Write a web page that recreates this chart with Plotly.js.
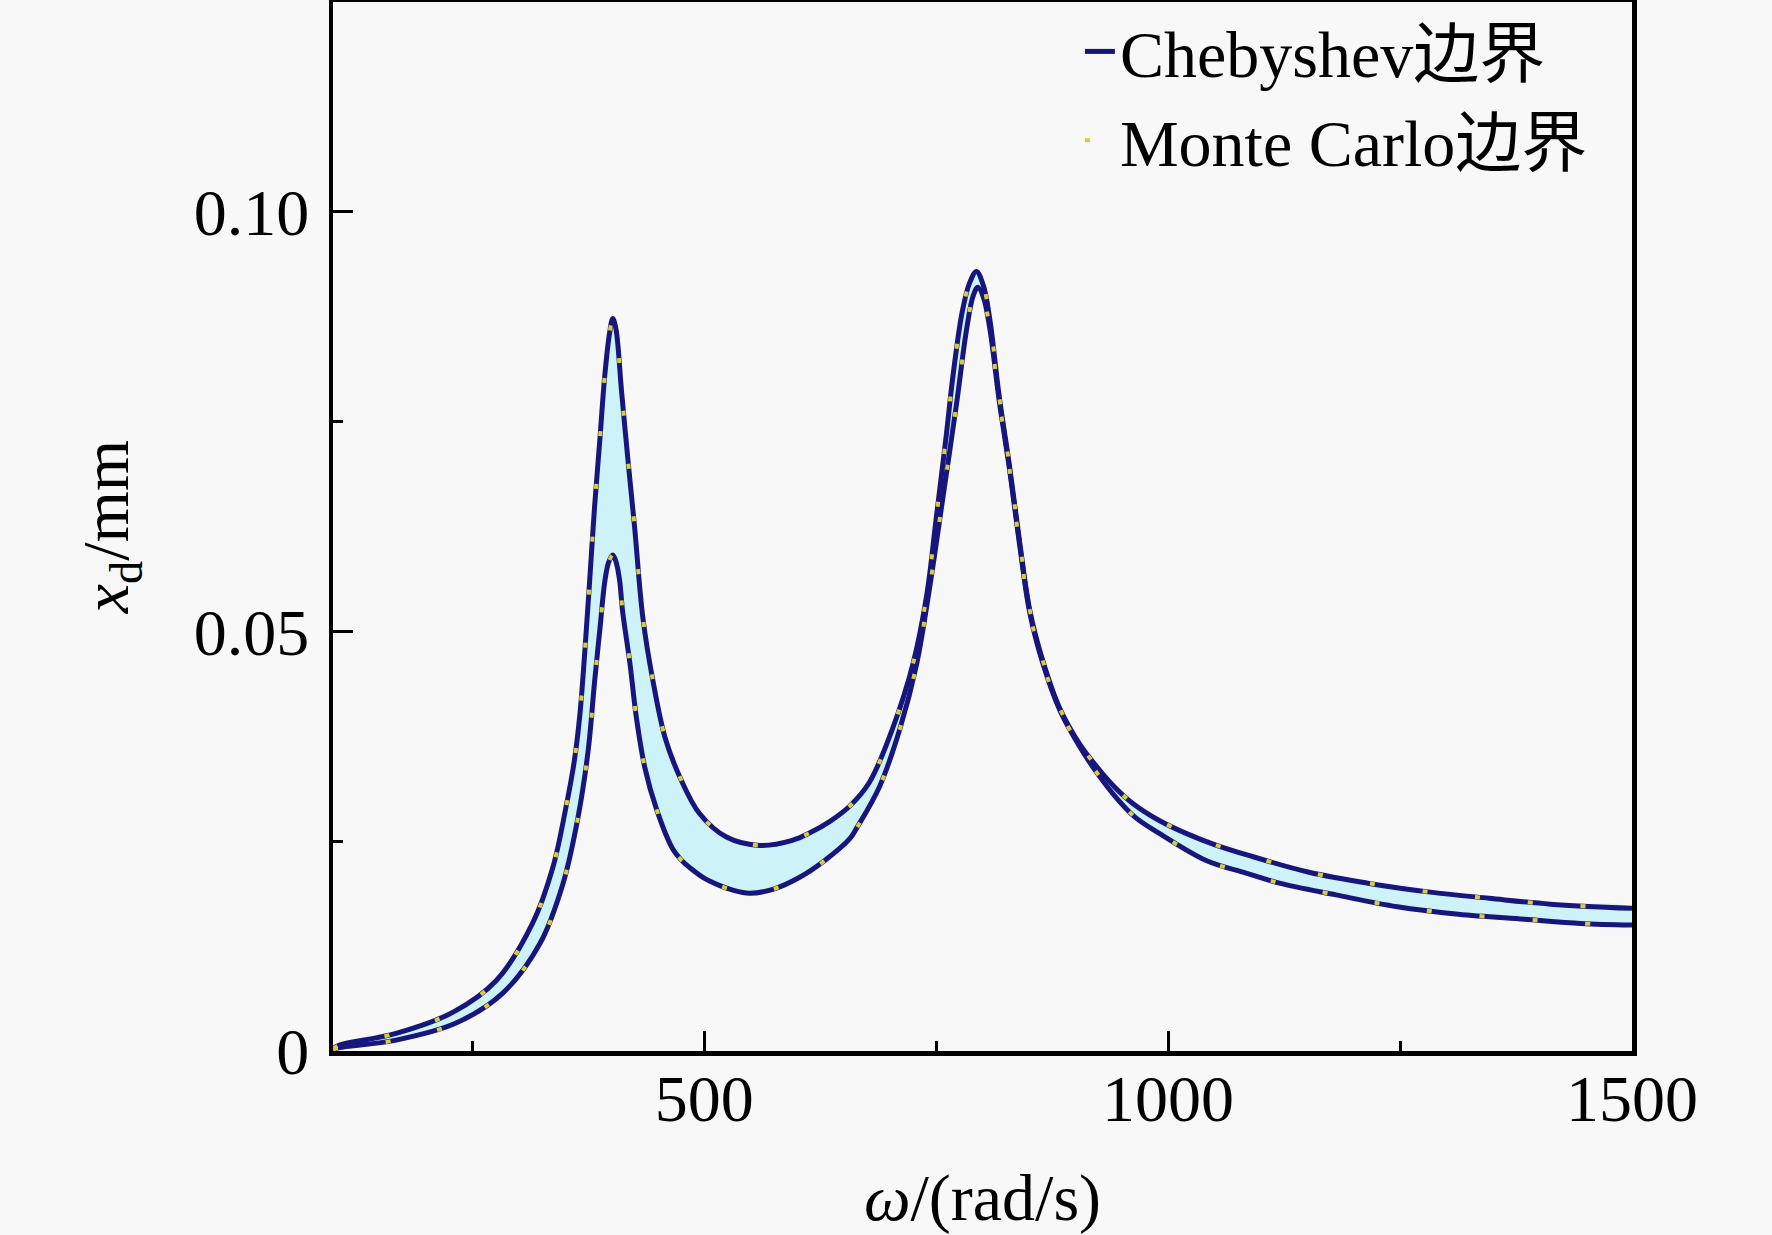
<!DOCTYPE html>
<html>
<head>
<meta charset="utf-8">
<script src="https://cdn.plot.ly/plotly-3.0.1.min.js"></script>
<style>
    html, body { margin: 0; padding: 0; background: #f8f8f8; }
    #plot { width: 1772px; height: 1235px; }
</style>
</head>
<body>
<div id="plot"></div>
<script>
// Upper bound of x_d (mm) against ω (rad/s).
const upperOmega = [
    100, 107, 168, 229, 276, 315, 337, 351, 360, 366, 371, 376, 382, 387.5, 393, 398, 401.5, 405, 411, 418,
    425, 434, 445, 458, 474, 495, 524, 560, 595, 614, 636, 657, 678, 703, 725, 740, 750, 761, 768, 778,
    786, 793.5, 801, 808, 818, 829, 840, 851, 865, 883, 904, 923, 942, 962, 990, 1020, 1050, 1087, 1152, 1215,
    1285, 1346, 1412, 1500,
];
const upperXd = [
    0.0003, 0.0007, 0.0021, 0.0046, 0.0084, 0.0152, 0.0219, 0.0290, 0.0345, 0.0400, 0.0470, 0.0550, 0.0650, 0.0727, 0.0806, 0.0855, 0.0873, 0.0860, 0.0786, 0.0703,
    0.0625, 0.0516, 0.0440, 0.0373, 0.0326, 0.0283, 0.0255, 0.0245, 0.0251, 0.0260, 0.0274, 0.0292, 0.0320, 0.0384, 0.0461, 0.0544, 0.0634, 0.0734, 0.0803, 0.0880,
    0.0915, 0.0929, 0.0912, 0.0871, 0.0780, 0.0698, 0.0607, 0.0525, 0.0465, 0.0409, 0.0367, 0.0339, 0.0315, 0.0295, 0.0275, 0.0259, 0.0246, 0.0233, 0.0213, 0.0200,
    0.0189, 0.0182, 0.0175, 0.0170,
];

// Lower bound.
const lowerOmega = [
    100, 107, 168, 232, 283, 323, 348, 364, 375, 382, 387.5, 393, 397, 401.5, 405, 409, 412, 420, 427, 436,
    449, 466, 475, 485, 500, 515, 530, 549, 575, 603, 630, 657, 664, 689, 711, 729, 743, 757, 772, 783,
    790, 795, 801, 808, 818, 829, 840, 851, 865, 883, 904, 923, 944, 965, 991, 1041, 1084, 1120, 1181, 1247,
    1313, 1384, 1445, 1500,
];
const lowerXd = [
    0.0002, 0.0004, 0.0013, 0.0033, 0.0069, 0.0128, 0.0200, 0.0278, 0.0358, 0.0441, 0.0501, 0.0560, 0.0582, 0.0591, 0.0583, 0.0560, 0.0525, 0.0462, 0.0397, 0.0338,
    0.0287, 0.0241, 0.0228, 0.0218, 0.0206, 0.0198, 0.0192, 0.0188, 0.0193, 0.0207, 0.0227, 0.0253, 0.0265, 0.0315, 0.0384, 0.0461, 0.0552, 0.0657, 0.0771, 0.0861,
    0.0900, 0.0910, 0.0898, 0.0860, 0.0775, 0.0694, 0.0603, 0.0522, 0.0462, 0.0407, 0.0364, 0.0332, 0.0302, 0.0278, 0.0259, 0.0227, 0.0212, 0.0200, 0.0186, 0.0172,
    0.0163, 0.0157, 0.0152, 0.0150,
];

// The Monte Carlo bounds coincide with the Chebyshev ones in the figure.
const mcUpperOmega = upperOmega;
const mcUpperXd = upperXd;
const mcLowerOmega = lowerOmega;
const mcLowerXd = lowerXd;

const seriesNames = [ 'Chebyshev边界', 'Monte Carlo边界' ];
const yTickVals = [ 0, 0.05, 0.10 ];
const yTickText = [ '0', '0.05', '0.10' ];

const serif = '"Liberation Serif", "Times New Roman", "Noto Sans CJK SC", serif';
const navy = '#16167c';
const mcColor = '#dccc3a';
const spline = { shape: 'spline', smoothing: 1 };

const data = [
    // Band between the bounds.
    {
        x: upperOmega.concat([ ...lowerOmega ].reverse()),
        y: upperXd.concat([ ...lowerXd ].reverse()),
        fill: 'toself',
        fillcolor: '#cdf2f7',
        line: { width: 0, ...spline },
        mode: 'lines',
        hoverinfo: 'skip',
        showlegend: false,
        type: 'scatter',
    },
    {
        x: upperOmega, y: upperXd,
        name: seriesNames[0], legendgroup: 'cheb',
        line: { color: navy, width: 5, ...spline },
        mode: 'lines', type: 'scatter',
    },
    {
        x: lowerOmega, y: lowerXd,
        name: seriesNames[0], legendgroup: 'cheb', showlegend: false,
        line: { color: navy, width: 5, ...spline },
        mode: 'lines', type: 'scatter',
    },
    {
        x: mcUpperOmega, y: mcUpperXd,
        name: seriesNames[1], legendgroup: 'mc',
        line: { color: mcColor, width: 4, dash: '5px,48px', ...spline },
        mode: 'lines', type: 'scatter',
    },
    {
        x: mcLowerOmega, y: mcLowerXd,
        name: seriesNames[1], legendgroup: 'mc', showlegend: false,
        line: { color: mcColor, width: 4, dash: '5px,48px', ...spline },
        mode: 'lines', type: 'scatter',
    },
];

const layout = {
    width: 1772,
    height: 1235,
    margin: { l: 333, r: 140, t: 2, b: 184 },
    paper_bgcolor: '#f8f8f8',
    plot_bgcolor: '#f8f8f8',
    font: { family: serif, size: 66, color: '#000' },
    showlegend: true,
    legend: {
        x: 0.575, xanchor: 'left',
        y: 1, yanchor: 'top',
        bgcolor: 'rgba(0,0,0,0)',
        font: { family: serif, size: 66, color: '#000' },
        tracegroupgap: 0,
    },
    xaxis: {
        range: [ 100, 1500 ],
        tick0: 0,
        dtick: 500,
        ticks: 'inside',
        ticklen: 20,
        tickwidth: 3,
        tickcolor: '#000',
        minor: { dtick: 250, tick0: 0, ticks: 'inside', ticklen: 10, tickwidth: 3, tickcolor: '#000' },
        ticklabelstandoff: -14,
        showline: true,
        linewidth: 4.5,
        linecolor: '#000',
        mirror: true,
        showgrid: false,
        zeroline: false,
        tickfont: { family: serif, size: 66 },
        title: { text: '<i>ω</i>/(rad/s)', font: { family: serif, size: 66 }, standoff: 76 },
    },
    yaxis: {
        range: [ 0, 0.125 ],
        tickvals: yTickVals,
        ticktext: yTickText,
        ticks: 'inside',
        ticklen: 20,
        tickwidth: 3,
        tickcolor: '#000',
        minor: { dtick: 0.025, tick0: 0, ticks: 'inside', ticklen: 10, tickwidth: 3, tickcolor: '#000' },
        ticklabelstandoff: 6,
        showline: true,
        linewidth: 4.5,
        linecolor: '#000',
        mirror: true,
        showgrid: false,
        zeroline: false,
        tickfont: { family: serif, size: 66 },
        title: { text: '<i>x</i><sub>d</sub>/mm', font: { family: serif, size: 66 }, standoff: 45 },
    },
};

Plotly.newPlot('plot', data, layout, { staticPlot: true });
</script>
</body>
</html>
